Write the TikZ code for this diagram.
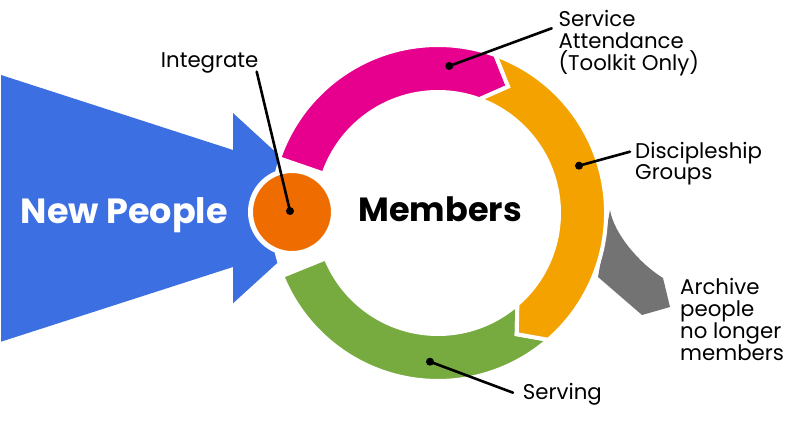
\documentclass[tikz,border=0pt]{standalone}
\usepackage{fontspec}
\setmainfont{Poppins}
\definecolor{mBlue}{HTML}{3B6FE2}
\definecolor{mPink}{HTML}{E6008D}
\definecolor{mAmber}{HTML}{F4A200}
\definecolor{mOrange}{HTML}{EE6C00}
\definecolor{mGreen}{HTML}{77AB40}
\definecolor{mGrey}{HTML}{737373}

\tikzset{
  ringseg/.style={draw=white, line width=4pt, line join=miter},
  leader/.style={line width=2.6pt, line cap=round},
  tipdot/.style={circle, fill=black, inner sep=0pt, minimum size=8pt},
  lbl/.style={anchor=base west, inner sep=0pt, align=left,
              font=\fontsize{21.3}{21.7}\selectfont},
  bigtxt/.style={anchor=base west, inner sep=0pt,
                 font=\fontsize{33.5}{36}\selectfont\bfseries},
}

\begin{document}
\begin{tikzpicture}[x=1pt, y=1pt]
  \useasboundingbox (0,0) rectangle (800,447);
  % incoming arrow
  \fill[mBlue] (1,372) -- (233,297) -- (233,334) -- (337,238.5)
    -- (233,143.7) -- (233,180) -- (1,105.3) -- cycle;
  % archive leak
  \fill[mGrey] (610,237) .. controls (614,213) and (640,183) .. (663,169)
    -- (670,140) -- (642,132) -- (598,170) -- cycle;
  \begin{scope}[shift={(438,234)}]
    \fill[white] (0,0) circle[radius=168];
    \fill[mGreen, ringseg] (-49:168) arc[start angle=-49, end angle=-158, radius=168]
      -- (-158:121) arc[start angle=-158, end angle=-49, radius=121]
      -- (-57:144.5) -- cycle;
    \fill[mPink, ringseg] (161:168) arc[start angle=161, end angle=70, radius=168]
      -- (61:144.5) -- (70:121) arc[start angle=70, end angle=161, radius=121] -- cycle;
    \fill[mAmber, ringseg] (70:168) arc[start angle=70, end angle=-49, radius=168]
      -- (-57:144.5) -- (-49:121) arc[start angle=-49, end angle=70, radius=121]
      -- (61:144.5) -- cycle;
  \end{scope}
  \node[circle, fill=mOrange, draw=white, line width=5pt, minimum size=83pt,
        inner sep=0pt] (integ) at (292,235) {};

  \node[bigtxt, text=white, font=\fontsize{35}{36}\selectfont\bfseries]
    (newppl) at (20.7,223.7) {New People};
  \node[bigtxt] (members) at (358.3,225.3) {Members};

  % labels (base = last line)
  \node[lbl] (integLbl) at (160.7,379.3) {Integrate};
  \node[lbl] (svcLbl) at (558.3,376.9) {Service\\Attendance\\(Toolkit Only)};
  \node[lbl] (dscLbl) at (635,267) {Discipleship\\Groups};
  \node[lbl] (arcLbl) at (680,86.9) {Archive\\people\\no longer\\members};
  \node[lbl] (srvLbl) at (522.7,47) {Serving};

  % leaders
  \foreach \nm/\dotpos/\endpos in {integ/{290,236}/{256.7,375.3},
      svc/{449.3,381}/{551.7,418.7}, dsc/{579,281.3}/{630,295.3},
      srv/{430,85.3}/{513,54.3}} {
    \node[tipdot] (\nm-dot) at (\dotpos) {};
    \coordinate (\nm-end) at (\endpos);
    \draw[leader] (\nm-dot.center) -- (\nm-end);
  }
\end{tikzpicture}
\end{document}
